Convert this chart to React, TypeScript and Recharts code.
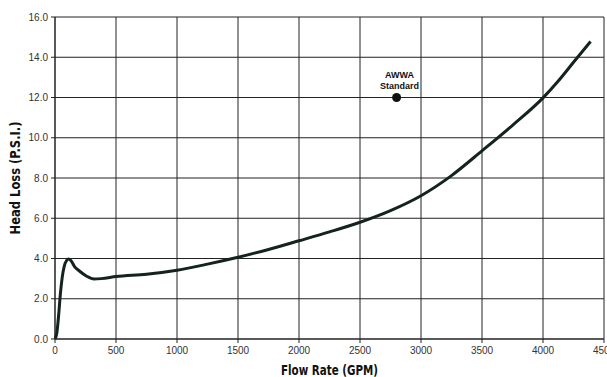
import { LineChart, Line, XAxis, YAxis, CartesianGrid, ReferenceDot } from "recharts";

const flowRate = [0, 15, 30, 45, 60, 75, 95, 110, 130, 160, 200, 260, 320, 380, 500, 750, 1000, 1250, 1500, 1750, 2000, 2250, 2500, 2750, 3000, 3250, 3500, 3750, 4000, 4125, 4250, 4390];
const headLoss = [0, 0.3, 1.2, 2.3, 3.1, 3.6, 3.9, 3.97, 3.9, 3.6, 3.38, 3.12, 2.98, 3.0, 3.1, 3.22, 3.42, 3.72, 4.06, 4.45, 4.88, 5.32, 5.8, 6.38, 7.12, 8.12, 9.35, 10.62, 11.98, 12.82, 13.75, 14.78];

const xTicks = [0, 500, 1000, 1500, 2000, 2500, 3000, 3500, 4000, 4500];
const yTicks = [0, 2, 4, 6, 8, 10, 12, 14, 16];

const standardPoint = { gpm: 2800, psi: 12, lines: ["AWWA", "Standard"] };
const xTitle = "Flow Rate (GPM)";
const yTitle = "Head Loss (P.S.I.)";

const data = flowRate.map((gpm, i) => ({ gpm, psi: headLoss[i] }));

const titleFont = "'DejaVu Sans Condensed', 'Liberation Sans Narrow', sans-serif";
const tickFont = "'Liberation Sans', Arial, sans-serif";

function StandardLabel(props: any) {
  const { viewBox } = props;
  const cx = viewBox.x + (viewBox.width || 0) / 2;
  const cy = viewBox.y + (viewBox.height || 0) / 2;
  return (
    <g fontFamily={tickFont} fontWeight="bold" fontSize={9} fill="#111" textAnchor="middle">
      <text x={cx + 3} y={cy - 20}>{standardPoint.lines[0]}</text>
      <text x={cx + 3} y={cy - 9}>{standardPoint.lines[1]}</text>
    </g>
  );
}

// condensed bold titles, squeezed to the reference's text length
function XTitle(props: any) {
  const { viewBox } = props;
  const cx = viewBox.x + viewBox.width / 2;
  return (
    <text
      x={cx}
      y={375}
      textAnchor="middle"
      fontFamily={titleFont}
      fontWeight="bold"
      fontSize={13.5}
      fill="#111"
      textLength={97}
      lengthAdjust="spacingAndGlyphs"
    >
      {xTitle}
    </text>
  );
}

function YTitle(props: any) {
  const { viewBox } = props;
  const cy = viewBox.y + viewBox.height / 2;
  return (
    <text
      x={20}
      y={cy}
      transform={`rotate(-90 20 ${cy})`}
      textAnchor="middle"
      fontFamily={titleFont}
      fontWeight="bold"
      fontSize={13.5}
      fill="#111"
      textLength={113}
      lengthAdjust="spacingAndGlyphs"
    >
      {yTitle}
    </text>
  );
}

export default function App() {
  return (
    <div style={{ position: "absolute", left: 0, top: 0, background: "#fff" }}>
      <LineChart width={607} height={377} data={data} margin={{ top: 17, right: 3, bottom: 0, left: 0 }}>
        <CartesianGrid stroke="#222" strokeWidth={1} />
        <XAxis
          type="number"
          dataKey="gpm"
          domain={[0, 4500]}
          ticks={xTicks}
          interval={0}
          height={38}
          tickSize={4}
          tickMargin={4}
          stroke="#222"
          tick={{ fontSize: 10, fill: "#333", fontFamily: tickFont }}
          label={<XTitle />}
        />
        <YAxis
          type="number"
          domain={[0, 16]}
          ticks={yTicks}
          interval={0}
          width={55}
          tickSize={4}
          tickMargin={3}
          stroke="#222"
          tickFormatter={(v: number) => v.toFixed(1)}
          tick={{ fontSize: 10, fill: "#333", fontFamily: tickFont }}
          label={<YTitle />}
        />
        <Line
          type="monotone"
          dataKey="psi"
          stroke="#14231e"
          strokeWidth={3}
          dot={false}
          isAnimationActive={false}
        />
        <ReferenceDot
          x={standardPoint.gpm}
          y={standardPoint.psi}
          r={4.5}
          fill="#111"
          stroke="none"
          label={<StandardLabel />}
        />
      </LineChart>
    </div>
  );
}
